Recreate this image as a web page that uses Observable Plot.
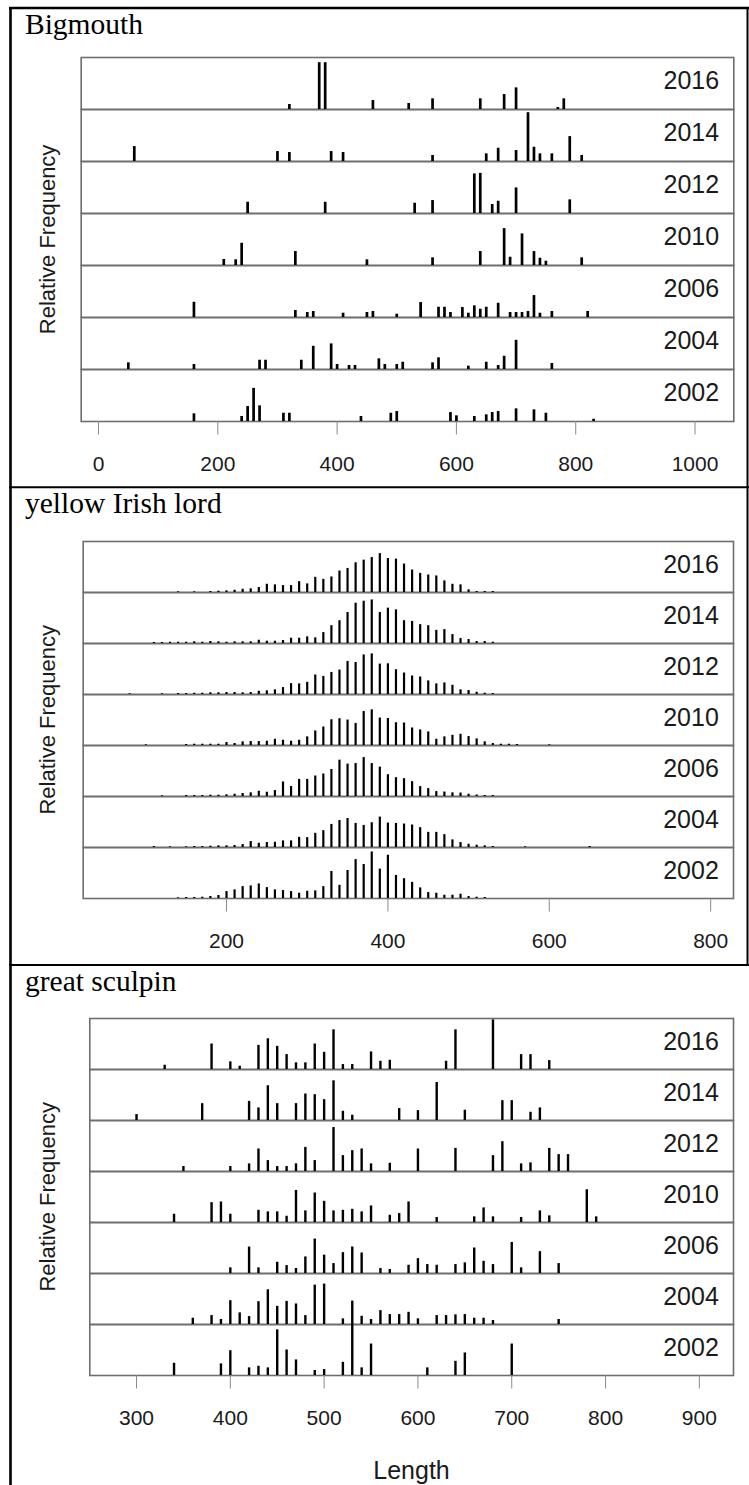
<!DOCTYPE html>
<html><head><meta charset="utf-8">
<script src="https://cdn.jsdelivr.net/npm/d3@7"></script>
<script src="https://cdn.jsdelivr.net/npm/@observablehq/plot@0.6"></script>
<style>
body{margin:0;background:#fff;}
#page{position:relative;width:749px;height:1485px;overflow:hidden;background:#fff;}
#page > svg, #page > div{position:absolute;left:0;}
</style></head>
<body><div id="page"></div>
<script>
const years = [2016, 2014, 2012, 2010, 2006, 2004, 2002];
const speciesNames = ["Bigmouth", "yellow Irish lord", "great sculpin"];
const bigmouthTicks = [0, 200, 400, 600, 800, 1000];
const yellowTicks = [200, 400, 600, 800];
const sculpinTicks = [300, 400, 500, 600, 700, 800, 900];
const yLabel = "Relative Frequency";
const xLabel = "Length";

// [year, length, relative frequency]
const bigmouth = [
 [2016,320,5],[2016,370,47],[2016,380,47],[2016,460,9],[2016,520,6],[2016,560,10.7],[2016,640,10.7],[2016,680,15],[2016,700,21.7],[2016,770,2],[2016,780,10.7],
 [2014,60,15],[2014,300,10],[2014,320,9],[2014,390,10],[2014,410,9],[2014,560,6],[2014,650,7.7],[2014,670,13.3],[2014,700,11],[2014,720,49],[2014,730,14.3],[2014,740,7.7],[2014,760,7.7],[2014,790,25],[2014,810,6],
 [2012,250,11.3],[2012,380,11.3],[2012,530,10.3],[2012,560,13],[2012,630,39.7],[2012,640,40.3],[2012,660,9],[2012,670,12.3],[2012,700,25.7],[2012,790,13.7],
 [2010,210,6],[2010,230,5.7],[2010,240,22.3],[2010,330,14],[2010,450,5.7],[2010,560,7.7],[2010,640,14],[2010,680,37],[2010,690,8.3],[2010,710,31.7],[2010,730,14],[2010,740,7.3],[2010,750,4.3],[2010,810,7.7],
 [2006,160,15.3],[2006,330,7],[2006,350,5],[2006,360,6],[2006,410,4.3],[2006,450,5],[2006,460,6],[2006,500,3.3],[2006,540,15],[2006,570,10.3],[2006,580,10.3],[2006,590,5],[2006,610,10],[2006,620,4.3],[2006,630,11.7],[2006,640,8.3],[2006,650,10.3],[2006,670,14.3],[2006,690,5],[2006,700,5],[2006,710,5],[2006,720,6],[2006,730,22],[2006,740,4.3],[2006,760,6],[2006,820,6],
 [2004,50,6.7],[2004,160,5],[2004,270,9.3],[2004,280,9.3],[2004,340,9.3],[2004,360,23.3],[2004,390,25.7],[2004,400,5],[2004,420,4],[2004,430,4],[2004,470,10.7],[2004,480,5],[2004,500,5],[2004,510,7.3],[2004,560,6.7],[2004,570,11.7],[2004,620,3.3],[2004,650,7.3],[2004,670,4],[2004,680,13.3],[2004,700,29.3],[2004,760,6],
 [2002,160,7.7],[2002,240,5],[2002,250,15],[2002,260,33.3],[2002,270,15.7],[2002,310,8.3],[2002,320,8.3],[2002,440,5],[2002,490,8.3],[2002,500,10],[2002,590,9],[2002,600,5.7],[2002,630,5],[2002,650,6.7],[2002,660,9],[2002,670,10],[2002,700,12.7],[2002,730,11.7],[2002,750,8.3],[2002,830,2.3]
];

const yellowIrishLord = [
 [2016,140,0.7],[2016,160,0.7],[2016,180,1],[2016,190,1.3],[2016,200,1.7],[2016,210,2.3],[2016,220,3.3],[2016,230,3.7],[2016,240,5],[2016,250,8.3],[2016,260,7.7],[2016,270,7],[2016,280,7],[2016,290,11],[2016,300,8.7],[2016,310,15.3],[2016,320,13.3],[2016,330,15.7],[2016,340,21.7],[2016,350,24.3],[2016,360,30],[2016,370,32.7],[2016,380,35.3],[2016,390,39.3],[2016,400,34.3],[2016,410,33.7],[2016,420,28.7],[2016,430,22.7],[2016,440,19.3],[2016,450,17.7],[2016,460,16.7],[2016,470,11.7],[2016,480,8.3],[2016,490,7.7],[2016,500,2.7],[2016,510,1],[2016,520,1],[2016,530,1],
 [2014,110,1],[2014,120,1],[2014,130,1.3],[2014,140,1.3],[2014,150,1.3],[2014,160,1.7],[2014,170,1.3],[2014,180,2],[2014,190,1.7],[2014,200,1.3],[2014,210,1.7],[2014,220,1.7],[2014,230,1.7],[2014,240,3.3],[2014,250,2.3],[2014,260,2.3],[2014,270,3],[2014,280,5.3],[2014,290,5.3],[2014,300,6.7],[2014,310,5.7],[2014,320,11],[2014,330,18],[2014,340,23],[2014,350,31.3],[2014,360,40.7],[2014,370,42.7],[2014,380,44],[2014,390,31.3],[2014,400,35.7],[2014,410,34],[2014,420,23],[2014,430,22.3],[2014,440,19],[2014,450,18],[2014,460,13.3],[2014,470,14],[2014,480,9],[2014,490,5],[2014,500,4],[2014,510,2],[2014,520,2],[2014,530,1.3],
 [2012,80,0.7],[2012,120,0.7],[2012,140,1],[2012,150,1],[2012,160,1.3],[2012,170,1.3],[2012,180,1.7],[2012,190,1.7],[2012,200,2],[2012,210,2],[2012,220,1.7],[2012,230,2],[2012,240,3.3],[2012,250,3.7],[2012,260,4.7],[2012,270,7],[2012,280,11],[2012,290,10.7],[2012,300,12.3],[2012,310,19.7],[2012,320,18.3],[2012,330,22.3],[2012,340,24.7],[2012,350,33.3],[2012,360,32.3],[2012,370,40],[2012,380,41],[2012,390,30.7],[2012,400,31],[2012,410,25],[2012,420,21.7],[2012,430,18.7],[2012,440,17.7],[2012,450,13.7],[2012,460,10.7],[2012,470,11.7],[2012,480,9.3],[2012,490,4.7],[2012,500,4],[2012,510,2.3],[2012,520,1.3],[2012,530,1],
 [2010,100,0.7],[2010,150,1],[2010,160,1.3],[2010,170,1.3],[2010,180,1.3],[2010,190,1.3],[2010,200,3],[2010,210,2],[2010,220,3.7],[2010,230,4],[2010,240,4],[2010,250,4.3],[2010,260,6.3],[2010,270,5.3],[2010,280,4.3],[2010,290,5.3],[2010,300,8.7],[2010,310,14.7],[2010,320,18.7],[2010,330,26],[2010,340,27],[2010,350,25.7],[2010,360,22.3],[2010,370,34.3],[2010,380,36],[2010,390,27.7],[2010,400,27.3],[2010,410,23],[2010,420,22.7],[2010,430,17.7],[2010,440,15.7],[2010,450,13.7],[2010,460,6.3],[2010,470,8.7],[2010,480,10.3],[2010,490,11.3],[2010,500,9],[2010,510,6.7],[2010,520,3.7],[2010,530,2],[2010,540,1.3],[2010,550,1.3],[2010,560,1],[2010,600,0.7],
 [2006,120,0.7],[2006,150,1],[2006,160,1],[2006,170,1],[2006,180,1.3],[2006,190,1.3],[2006,200,1.7],[2006,210,2.3],[2006,220,3],[2006,230,3.7],[2006,240,5.3],[2006,250,4.3],[2006,260,6],[2006,270,14.7],[2006,280,10],[2006,290,17.3],[2006,300,17.3],[2006,310,20.7],[2006,320,22.7],[2006,330,27.3],[2006,340,36.7],[2006,350,32.7],[2006,360,33.3],[2006,370,39.3],[2006,380,33.3],[2006,390,29.7],[2006,400,22],[2006,410,19],[2006,420,18],[2006,430,15],[2006,440,10],[2006,450,8],[2006,460,5],[2006,470,4.5],[2006,480,3.7],[2006,490,3.5],[2006,500,2.3],[2006,510,1.5],[2006,520,1],[2006,530,1],
 [2004,110,1],[2004,130,0.7],[2004,150,0.7],[2004,160,1],[2004,170,1],[2004,180,1.3],[2004,190,1.7],[2004,200,1.7],[2004,210,2],[2004,220,3],[2004,230,6],[2004,240,4.3],[2004,250,5],[2004,260,5.3],[2004,270,6.7],[2004,280,6.7],[2004,290,10.3],[2004,300,10],[2004,310,14.3],[2004,320,17],[2004,330,23.3],[2004,340,27.3],[2004,350,29.3],[2004,360,24.3],[2004,370,22.3],[2004,380,25],[2004,390,30.7],[2004,400,24.7],[2004,410,24.3],[2004,420,23.7],[2004,430,22.7],[2004,440,20],[2004,450,15.3],[2004,460,15.3],[2004,470,13],[2004,480,7.7],[2004,490,5],[2004,500,3.3],[2004,510,2.3],[2004,520,1.7],[2004,530,1],[2004,570,0.7],[2004,650,1],
 [2002,140,0.7],[2002,150,1],[2002,160,1],[2002,170,1.3],[2002,180,2],[2002,190,3],[2002,200,7],[2002,210,8.7],[2002,220,12],[2002,230,12.7],[2002,240,14.7],[2002,250,11],[2002,260,8.7],[2002,270,8],[2002,280,7],[2002,290,5.3],[2002,300,7.3],[2002,310,7.7],[2002,320,12],[2002,330,27.3],[2002,340,13.3],[2002,350,28.3],[2002,360,39.3],[2002,370,34.3],[2002,380,47],[2002,390,29.7],[2002,400,43.7],[2002,410,23.3],[2002,420,20],[2002,430,16.3],[2002,440,10.7],[2002,450,6],[2002,460,5.3],[2002,470,3.3],[2002,480,3.3],[2002,490,4.3],[2002,500,2],[2002,510,1.3],[2002,520,1]
];

const greatSculpin = [
 [2016,330,4.3],[2016,380,25.7],[2016,400,7.7],[2016,410,3.3],[2016,430,24.3],[2016,440,31],[2016,450,23.3],[2016,460,15],[2016,470,6.7],[2016,480,6.7],[2016,490,25.7],[2016,500,17.3],[2016,510,40],[2016,520,5],[2016,530,5],[2016,550,17.7],[2016,560,8.3],[2016,570,9.3],[2016,630,8.3],[2016,640,40],[2016,680,50],[2016,710,15],[2016,720,15],[2016,740,9],
 [2014,300,6],[2014,370,17],[2014,420,19.3],[2014,430,12.7],[2014,440,35],[2014,450,17],[2014,470,17],[2014,480,26.7],[2014,490,26],[2014,500,21],[2014,510,40],[2014,520,9.3],[2014,530,5.3],[2014,580,12],[2014,600,10],[2014,620,38.3],[2014,650,10.3],[2014,690,20],[2014,700,20],[2014,720,8.3],[2014,730,12.7],
 [2012,350,5],[2012,400,5],[2012,420,7.7],[2012,430,22.7],[2012,440,11],[2012,450,5],[2012,460,5],[2012,470,7.7],[2012,480,24.3],[2012,490,11],[2012,510,44.3],[2012,520,16],[2012,530,21],[2012,540,22.7],[2012,550,7.7],[2012,570,8.3],[2012,600,22.7],[2012,640,23.3],[2012,680,16],[2012,690,30],[2012,710,7.7],[2012,720,8.7],[2012,740,23.3],[2012,750,17],[2012,760,17],
 [2010,340,8.3],[2010,380,20],[2010,390,20.7],[2010,400,8.3],[2010,430,12.3],[2010,440,10.7],[2010,450,10.7],[2010,460,6.3],[2010,470,32.3],[2010,480,11.7],[2010,490,29.7],[2010,500,21.3],[2010,510,11.7],[2010,520,12.3],[2010,530,13.3],[2010,540,10.7],[2010,550,16.7],[2010,570,7.3],[2010,580,9],[2010,590,20.7],[2010,620,5],[2010,660,5.7],[2010,670,14.7],[2010,680,5.7],[2010,710,5],[2010,730,11.7],[2010,740,6.7],[2010,780,33],[2010,790,5.7],
 [2006,400,5.7],[2006,420,26.7],[2006,430,5.7],[2006,450,11.3],[2006,460,8],[2006,470,5],[2006,480,16.7],[2006,490,34.7],[2006,500,18.5],[2006,510,10],[2006,520,21],[2006,530,26.7],[2006,540,20.7],[2006,560,5],[2006,570,4],[2006,590,8.3],[2006,600,15],[2006,610,9],[2006,620,8.3],[2006,640,9],[2006,650,10.7],[2006,660,25.7],[2006,670,12.3],[2006,680,9],[2006,700,31.3],[2006,710,5.7],[2006,730,22],[2006,750,10],
 [2004,360,6.3],[2004,380,9],[2004,390,5],[2004,400,24],[2004,410,11.7],[2004,420,8],[2004,430,23],[2004,440,35],[2004,450,18.3],[2004,460,23.3],[2004,470,20.7],[2004,480,9],[2004,490,39.7],[2004,500,40.7],[2004,520,5.7],[2004,540,8.3],[2004,550,5],[2004,560,14],[2004,570,10],[2004,580,10],[2004,590,12.3],[2004,600,5.7],[2004,620,9],[2004,630,9],[2004,640,9.7],[2004,650,10],[2004,660,6.3],[2004,670,6.3],[2004,680,4],[2004,750,5],
 [2002,340,12.3],[2002,390,11.7],[2002,400,25],[2002,420,7.7],[2002,430,9.3],[2002,440,7.7],[2002,450,46],[2002,460,25.7],[2002,470,15.7],[2002,490,5],[2002,500,6],[2002,520,13.3],[2002,530,75],[2002,540,7.7],[2002,550,31.7],[2002,610,7.7],[2002,640,14.3],[2002,650,22.7],[2002,700,31.7]
];

const page = document.getElementById("page");
const W = 749;

function panel(data, cfg) {
  const svg = Plot.plot({
    width: W, height: cfg.height,
    marginLeft: cfg.boxLeft, marginRight: W - cfg.boxRight,
    marginTop: cfg.boxTop - cfg.top, marginBottom: cfg.top + cfg.height - cfg.boxBottom,
    x: {domain: cfg.xDomain},
    y: {domain: [0, cfg.rowUnits], axis: null},
    fy: {domain: years, axis: null, padding: 0},
    style: {fontFamily: "'Liberation Sans', Arial, sans-serif", background: "transparent", overflow: "visible"},
    marks: [
      Plot.frame({stroke: "#6e6e6e", strokeWidth: 1.6}),
      Plot.ruleX(data, {x: d => d[1], y1: 0, y2: d => d[2], fy: d => d[0], stroke: "#000", strokeWidth: cfg.barWidth}),
      Plot.text(years, {fy: d => d, text: d => String(d), frameAnchor: "top-right", dx: -14.7, dy: 13.8, fontSize: 25, fill: "#1a1a1a"}),
      Plot.axisX({ticks: cfg.ticks, tickFormat: d => String(d), tickSize: 13.5, tickPadding: 21.5, stroke: "#8a8a8a", fill: "#1a1a1a", fontSize: 21, label: null})
    ]
  });
  svg.style.top = cfg.top + "px";
  page.appendChild(svg);
}

panel(bigmouth, {top: 0, height: 487, boxTop: 56.8, boxBottom: 422, boxLeft: 80.7, boxRight: 733.3,
  xDomain: [-29, 1065], rowUnits: 52.2, ticks: bigmouthTicks, barWidth: 2.7});
panel(yellowIrishLord, {top: 487, height: 478, boxTop: 539.5, boxBottom: 900, boxLeft: 82.7, boxRight: 733,
  xDomain: [22.4, 828.3], rowUnits: 51.5, ticks: yellowTicks, barWidth: 2.2});
panel(greatSculpin, {top: 965, height: 520, boxTop: 1017, boxBottom: 1376.7, boxLeft: 89.3, boxRight: 733,
  xDomain: [250.2, 936.4], rowUnits: 51.4, ticks: sculpinTicks, barWidth: 2.4});

// decorations: cell borders, titles, axis titles
const ov = d3.select(page).append("svg").attr("width", W).attr("height", 1485)
  .style("position", "absolute").style("top", "0px").style("left", "0px");
const line = (x1, y1, x2, y2, w) => ov.append("line").attr("x1", x1).attr("y1", y1).attr("x2", x2).attr("y2", y2)
  .attr("stroke", "#000").attr("stroke-width", w);
line(10.5, 7, 10.5, 1485, 2.6);
line(9, 8, 749, 8, 2.4);
line(747.5, 7, 747.5, 965, 2);
line(9, 487.3, 749, 487.3, 2);
line(9, 965, 749, 965, 2);

const titleBase = [34, 513.3, 991];
const boxMid = [(56.8 + 422) / 2, (539.5 + 900) / 2, (1017 + 1376.7) / 2];
speciesNames.forEach((name, i) => {
  ov.append("text").attr("x", 25).attr("y", titleBase[i]).text(name)
    .attr("font-family", "'Liberation Serif', 'Times New Roman', serif").attr("font-size", 29.5).attr("fill", "#000");
  ov.append("text").attr("transform", `translate(47,${boxMid[i]}) rotate(-90)`).attr("text-anchor", "middle")
    .attr("dy", "0.35em").text(yLabel)
    .attr("font-family", "'Liberation Sans', Arial, sans-serif").attr("font-size", 22).attr("fill", "#1a1a1a");
});
ov.append("text").attr("x", 411.5).attr("y", 1479).attr("text-anchor", "middle").text(xLabel)
  .attr("font-family", "'Liberation Sans', Arial, sans-serif").attr("font-size", 25).attr("fill", "#1a1a1a");
</script>
</body></html>
